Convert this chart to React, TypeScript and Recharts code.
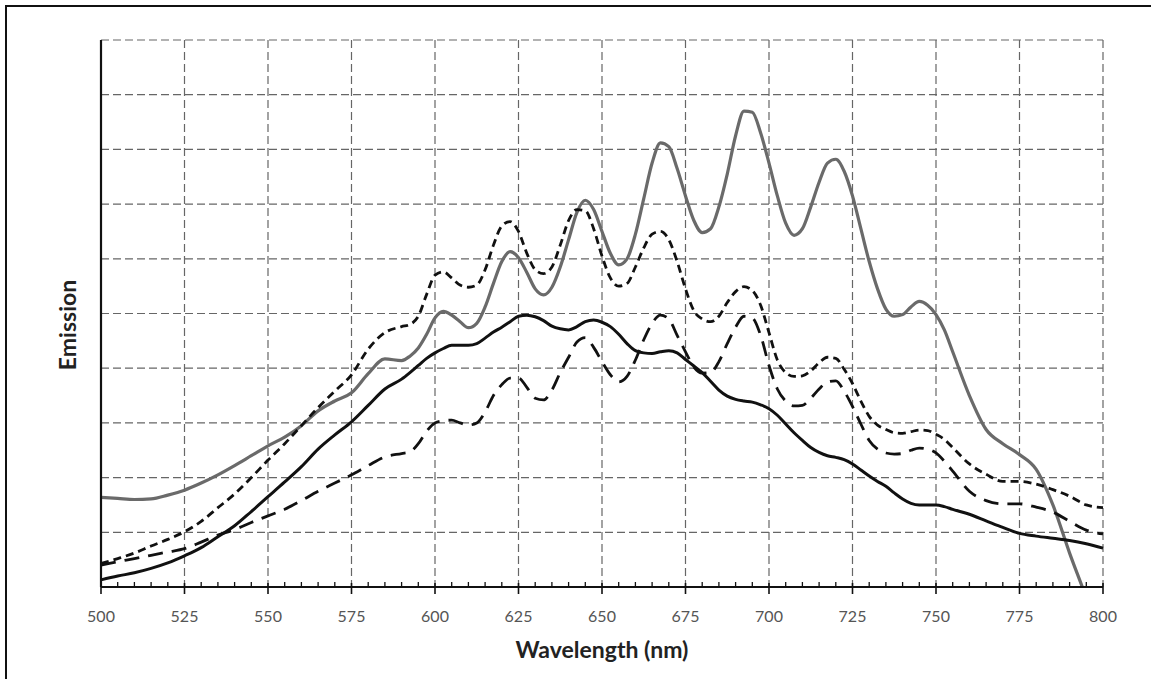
import { LineChart, Line, XAxis, YAxis, CartesianGrid, ReferenceLine } from "recharts";

// wavelength grid (nm)
const wavelengths = [
  500, 505, 510, 515, 520, 525, 530, 535, 540, 545, 550, 555, 560, 565, 570, 575, 580, 585,
  590, 592.5, 595, 597.5, 600, 602.5, 605, 607.5, 610, 612.5, 615, 617.5, 620, 622.5, 625, 627.5,
  630, 632.5, 635, 637.5, 640, 642.5, 645, 647.5, 650, 652.5, 655, 657.5, 660, 662.5, 665, 667.5,
  670, 672.5, 675, 677.5, 680, 682.5, 685, 687.5, 690, 692.5, 695, 697.5, 700, 702.5, 705, 707.5,
  710, 712.5, 715, 717.5, 720, 722.5, 725, 727.5, 730, 732.5, 735, 737.5, 740, 742.5, 745, 747.5,
  750, 752.5, 755, 760, 765, 770, 775, 780, 785, 790, 795, 800,
];

const graySolid = [
  1.64, 1.62, 1.6, 1.61, 1.68, 1.77, 1.9, 2.05, 2.22, 2.4, 2.58, 2.74, 2.95, 3.22, 3.4, 3.55, 3.9, 4.17,
  4.14, 4.22, 4.37, 4.62, 4.92, 5.04, 4.97, 4.85, 4.74, 4.82, 5.12, 5.55, 5.95, 6.13, 6.02, 5.75,
  5.45, 5.34, 5.48, 5.85, 6.35, 6.85, 7.07, 6.9, 6.5, 6.1, 5.89, 6.0, 6.45, 7.1, 7.75, 8.12,
  8.05, 7.65, 7.15, 6.7, 6.48, 6.55, 6.95, 7.55, 8.25, 8.7, 8.68, 8.3, 7.75, 7.15, 6.65, 6.43,
  6.55, 6.95, 7.4, 7.75, 7.82, 7.6, 7.15, 6.55, 5.95, 5.45, 5.08, 4.95, 4.98, 5.12, 5.22, 5.15,
  4.98, 4.7, 4.3, 3.5, 2.88, 2.62, 2.42, 2.15, 1.5, 0.62, -0.2, -1.1,
];

const shortDash = [
  0.43, 0.52, 0.62, 0.75, 0.87, 1.01, 1.2, 1.45, 1.7, 2.0, 2.32, 2.62, 2.95, 3.28, 3.58, 3.88, 4.35, 4.65,
  4.76, 4.8, 4.95, 5.35, 5.7, 5.76, 5.65, 5.52, 5.48, 5.52, 5.8, 6.25, 6.6, 6.68, 6.5, 6.1,
  5.8, 5.73, 5.85, 6.25, 6.7, 6.9, 6.88, 6.55, 6.05, 5.65, 5.5, 5.55, 5.85, 6.2, 6.45, 6.5,
  6.35, 5.95, 5.45, 5.05, 4.9, 4.85, 4.95, 5.2, 5.4, 5.49, 5.42, 5.15, 4.65, 4.15, 3.92, 3.85,
  3.86, 3.95, 4.1, 4.2, 4.18, 3.98, 3.72, 3.4, 3.12, 2.96, 2.88, 2.82, 2.81, 2.84, 2.87, 2.86,
  2.79, 2.7, 2.55, 2.25, 2.06, 1.93, 1.93, 1.88, 1.78, 1.66, 1.5, 1.45,
];

const longDash = [
  0.4, 0.46, 0.52, 0.58, 0.64, 0.7, 0.82, 0.95, 1.05, 1.18, 1.3, 1.42, 1.58, 1.75, 1.9, 2.05, 2.22, 2.38,
  2.44, 2.47, 2.62, 2.85, 3.0, 3.04, 3.05, 3.0, 2.96, 3.0, 3.2, 3.5, 3.7, 3.82, 3.82, 3.65,
  3.45, 3.42, 3.6, 3.92, 4.2, 4.48, 4.56, 4.38, 4.12, 3.88, 3.75, 3.85, 4.15, 4.52, 4.82, 4.97,
  4.9, 4.6, 4.3, 4.02, 3.91, 3.92, 4.12, 4.45, 4.75, 4.95, 4.92, 4.6, 4.05, 3.62, 3.4, 3.31,
  3.32, 3.45, 3.62, 3.75, 3.77, 3.58, 3.3, 2.98, 2.68, 2.52, 2.45, 2.43, 2.44, 2.5, 2.54, 2.52,
  2.45, 2.3, 2.12, 1.75, 1.58, 1.52, 1.52, 1.46, 1.37, 1.2, 1.04, 0.97,
];

const blackSolid = [
  0.13, 0.2, 0.26, 0.34, 0.44, 0.57, 0.72, 0.92, 1.12, 1.38, 1.65, 1.92, 2.2, 2.52, 2.78, 3.02, 3.32, 3.62,
  3.8, 3.92, 4.05, 4.18, 4.28, 4.36, 4.42, 4.42, 4.42, 4.45, 4.55, 4.66, 4.75, 4.85, 4.95, 4.97,
  4.94, 4.87, 4.77, 4.72, 4.7, 4.76, 4.85, 4.88, 4.84, 4.76, 4.62, 4.45, 4.32, 4.28, 4.27, 4.3,
  4.32, 4.28, 4.16, 4.04, 3.92, 3.76, 3.6, 3.49, 3.43, 3.4, 3.38, 3.33, 3.26, 3.14, 2.98, 2.82,
  2.68, 2.55, 2.46, 2.4, 2.37, 2.33, 2.25, 2.14, 2.03, 1.93, 1.84, 1.72, 1.61, 1.53, 1.5, 1.5,
  1.5, 1.47, 1.42, 1.33, 1.21, 1.09, 0.98, 0.93, 0.89, 0.85, 0.79, 0.71,
];

const xTicks = [
  500, 505, 510, 515, 520, 525, 530, 535, 540, 545, 550, 555, 560, 565, 570, 575, 580, 585, 590, 595,
  600, 605, 610, 615, 620, 625, 630, 635, 640, 645, 650, 655, 660, 665, 670, 675, 680, 685, 690, 695,
  700, 705, 710, 715, 720, 725, 730, 735, 740, 745, 750, 755, 760, 765, 770, 775, 780, 785, 790, 795, 800,
];
const gridX = [525, 550, 575, 600, 625, 650, 675, 700, 725, 750, 775, 800];
const gridY = [1, 2, 3, 4, 5, 6, 7, 8, 9, 10];

const data = wavelengths.map((w, i) => ({
  w,
  gray: graySolid[i],
  short: shortDash[i],
  long: longDash[i],
  black: blackSolid[i],
}));

const font = "Lato, 'Open Sans', sans-serif";
const gridColor = "#666";

const WaveTick = (props: any) => {
  const { x, y, payload } = props;
  const major = payload.value % 25 === 0;
  return (
    <g>
      {major ? (
        <line x1={x} x2={x} y1={y - 4} y2={y + 7} stroke="#111" strokeWidth={1.6} />
      ) : (
        <line x1={x} x2={x} y1={y - 5} y2={y} stroke="#111" strokeWidth={1.3} />
      )}
      {major && (
        <text x={x} y={y + 35} textAnchor="middle" fontSize={16} fill="#555" fontFamily={font}>
          {payload.value}
        </text>
      )}
    </g>
  );
};

export default function App() {
  return (
    <div style={{ position: "absolute", left: 0, top: 0, width: 1151, height: 679, background: "#fff", overflow: "hidden" }}>
      <div
        style={{
          position: "absolute",
          left: 5,
          top: 5,
          width: 1160,
          height: 690,
          borderTop: "2px solid #111",
          borderLeft: "2px solid #111",
        }}
      />
      <div style={{ position: "absolute", left: 0, top: 0 }}>
        <LineChart width={1151} height={679} data={data} margin={{ top: 40, right: 48, left: 100, bottom: 52 }}>
          <CartesianGrid stroke={gridColor} strokeWidth={1.2} strokeDasharray="8 4" horizontal={false} verticalValues={gridX} />
          {gridY.map((v) => (
            <ReferenceLine key={v} y={v} stroke={gridColor} strokeWidth={1.2} strokeDasharray="8 4" />
          ))}
          <XAxis
            dataKey="w"
            type="number"
            domain={[500, 800]}
            ticks={xTicks}
            interval={0}
            height={40}
            tickSize={0}
            tickMargin={0}
            tick={<WaveTick />}
            axisLine={{ stroke: "#111", strokeWidth: 2.2 }}
            tickLine={false}
          />
          <YAxis
            type="number"
            domain={[0, 10]}
            allowDataOverflow
            width={1}
            tick={false}
            tickLine={false}
            axisLine={{ stroke: "#111", strokeWidth: 2.2 }}
          />
          <Line type="monotone" dataKey="gray" stroke="#6a6a6a" strokeWidth={3.2} dot={false} isAnimationActive={false} />
          <Line type="monotone" dataKey="short" stroke="#111" strokeWidth={2.8} strokeDasharray="8 5" dot={false} isAnimationActive={false} />
          <Line type="monotone" dataKey="long" stroke="#111" strokeWidth={2.8} strokeDasharray="15 9" dot={false} isAnimationActive={false} />
          <Line type="monotone" dataKey="black" stroke="#111" strokeWidth={3} dot={false} isAnimationActive={false} />
        </LineChart>
      </div>
      <div
        style={{
          position: "absolute",
          left: 402,
          width: 400,
          top: 634,
          textAlign: "center",
          fontFamily: font,
          fontWeight: 700,
          fontSize: 23,
          color: "#222",
          lineHeight: "30px",
        }}
      >
        Wavelength (nm)
      </div>
      <div
        style={{
          position: "absolute",
          left: 67,
          top: 325,
          transform: "translate(-50%, -50%) rotate(-90deg)",
          fontFamily: font,
          fontWeight: 700,
          fontSize: 23,
          color: "#222",
          lineHeight: "30px",
          whiteSpace: "nowrap",
        }}
      >
        Emission
      </div>
    </div>
  );
}
